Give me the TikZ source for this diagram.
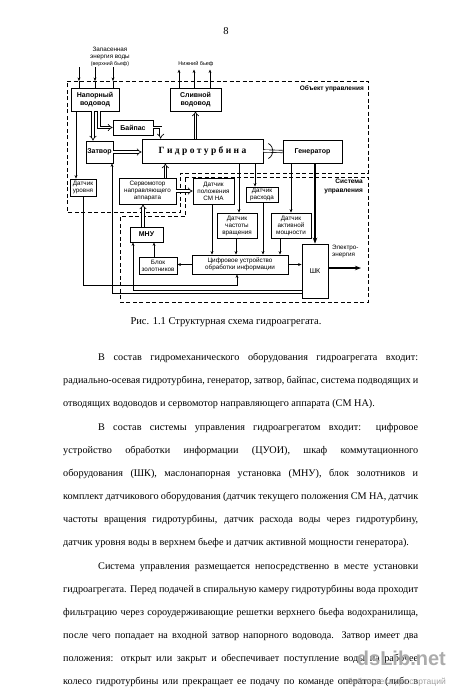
\documentclass[tikz,border=0pt]{standalone}
\usepackage{fontspec}
\setmainfont{Liberation Serif}
\setsansfont{Liberation Sans}
\usetikzlibrary{arrows.meta,calc}
\begin{document}
\begin{tikzpicture}[x=1pt,y=-1pt,
  box/.style={draw,line width=0.8pt,inner sep=0pt,align=center,font=\sffamily\bfseries\fontsize{7}{8}\selectfont},
  sbox/.style={box,font=\sffamily\fontsize{6.3}{7}\selectfont},
  bnd/.style={line width=0.9pt,dash pattern=on 4pt off 2.5pt},
  arr/.style={line width=0.55pt,-{Stealth[length=3.5pt,width=2.8pt]}},
  ln/.style={line width=0.55pt},
  dbl/.style={double,double distance=1.8pt,line width=0.65pt,-{Implies}},
  dbln/.style={double,double distance=1.8pt,line width=0.65pt},
  thk/.style={line width=1.6pt,-{Stealth[length=6pt,width=4.5pt]}},
  lbl/.style={inner sep=0pt,align=center,font=\sffamily\fontsize{6.3}{7.3}\selectfont},
  body/.style={inner sep=0pt,anchor=base west,font=\fontsize{10.2}{12}\selectfont},
]
\fill[white] (0,0) rectangle (450,694);
\path[use as bounding box] (0,0) rectangle (450,694);

% page number
\node[inner sep=0pt,anchor=base,font=\fontsize{10.5}{12}\selectfont] (pn) at (226,34) {8};

% boundaries
\draw[bnd] (67,81) -- (368,81) -- (368,173) -- (180,173) -- (180,212) -- (67,212) -- cycle;
\draw[bnd] (185,177) -- (368,177) -- (368,302) -- (120,302) -- (120,216.5) -- (185,216.5) -- cycle;

% boxes
\node[box,minimum width=48,minimum height=23] (napor) at (95,99.5) {Напорный\\водовод};
\node[box,minimum width=51,minimum height=23] (sliv) at (195.5,99.5) {Сливной\\водовод};
\node[box,minimum width=40,minimum height=15] (bypass) at (133,127.5) {Байпас};
\node[box,minimum width=27,minimum height=22] (zatvor) at (99.5,152) {Затвор};
\node[box,minimum width=121,minimum height=24,font=\bfseries\fontsize{9.5}{11}\selectfont] (turb) at (202.5,151) {Г и д р о т у р б и н а};
\node[box,minimum width=59,minimum height=23] (gen) at (312.5,151.5) {Генератор};
\node[sbox,minimum width=26,minimum height=17] (dur) at (83,187.5) {Датчик\\уровня};
\node[sbox,minimum width=57,minimum height=26] (servo) at (147.5,191) {Сервомотор\\направляющего\\аппарата};
\node[sbox,minimum width=41,minimum height=26] (dpos) at (213.5,191) {Датчик\\положения\\СМ НА};
\node[sbox,minimum width=32,minimum height=15] (drash) at (262,194.5) {Датчик\\расхода};
\node[sbox,minimum width=40,minimum height=25] (dchast) at (237,225.5) {Датчик\\частоты\\вращения};
\node[sbox,minimum width=40,minimum height=25] (dakt) at (291,225.5) {Датчик\\активной\\мощности};
\node[box,minimum width=33,minimum height=15] (mnu) at (146.5,234.5) {МНУ};
\node[sbox,minimum width=38,minimum height=17] (bz) at (158,265.5) {Блок\\золотников};
\node[sbox,minimum width=96,minimum height=19] (cuoi) at (240,264.5) {Цифровое устройство\\обработки информации};
\node[box,minimum width=26,minimum height=54,font=\sffamily\fontsize{7}{8}\selectfont] (shk) at (315,271) {ШК};

% labels
\node[lbl,anchor=south] (topin) at (110,67) {Запасенная\\энергия воды\\{\fontsize{5.3}{6}\selectfont(верхний бьеф)}};
\node[lbl,anchor=south,font=\sffamily\fontsize{5.5}{6.5}\selectfont] (nb) at (196,66.5) {Нижний бьеф};
\node[lbl,anchor=east,font=\sffamily\bfseries\fontsize{6.5}{7.5}\selectfont] (obj) at (364,88.5) {Объект управления};
\node[lbl,anchor=north east,align=right,font=\sffamily\bfseries\fontsize{6.5}{8.5}\selectfont] (sys) at (363,179) {Система\\управления};
\node[lbl,anchor=west,align=left] (elab) at (332,251.5) {Электро-\\энергия};

% helper coordinates
\coordinate (bt) at (0,81);
\coordinate (yo) at (0,69.5);
\coordinate (eout) at (361,268);
\coordinate (yl) at (0,285);
\coordinate (ym) at (0,290);
\coordinate (yz) at (0,293.5);

% inputs / outputs
\foreach \dx in {-16,0,18} {
  \draw[arr] ([xshift=\dx]napor.north |- topin.south) -- ([xshift=\dx]napor.north |- bt);
  \draw[ln] ([xshift=\dx]napor.north |- bt) -- ([xshift=\dx]napor.north);
}
\foreach \dx in {-16.5,-1.5,14.5}
  \draw[arr] ([xshift=\dx]sliv.north) -- ([xshift=\dx]sliv.north |- yo);

% water path
\draw[arr] ([xshift=-19]napor.south) -- ([xshift=-19]napor.south |- dur.north);
\draw[dbl] ([xshift=-2]napor.south) -- ([xshift=-2]napor.south |- zatvor.north);
\draw[dbl] ([xshift=4]napor.south) |- (bypass.west);
\draw[dbl] (bypass.east) -| ([xshift=19]turb.north west);
\draw[dbl] (zatvor.east) -- (zatvor.east -| turb.west);
\draw[dbl] (turb.north -| sliv.south) -- (sliv.south);
\draw[dbln] (turb.east) -- (gen.west);
\draw[line width=0.7pt] ($(turb.east)+(5,-7.5)$) .. controls ($(turb.east)+(11,-4)$) and ($(turb.east)+(11,4)$) .. ($(turb.east)+(5,7.5)$);
\draw[dbl] ([xshift=-11]servo.north east) -- ([xshift=-11]servo.north east |- turb.south);
\draw[dbl] ([xshift=-3.5]mnu.north) -- ([xshift=-3.5]mnu.north |- servo.south);
\draw[dbl] (servo.east) -- (dpos.west);

% sensors
\draw[arr] ([xshift=2]dchast.north |- turb.south) -- ([xshift=2]dchast.north);
\draw[arr] ([xshift=-7]drash.north |- turb.south) -- ([xshift=-7]drash.north);
\draw[arr] (dakt.north |- gen.south) -- (dakt.north);
\draw[thk] (shk.north |- gen.south) -- (shk.north);
\draw[thk] (shk.east |- eout) -- (eout);
\draw[arr] ([xshift=-1.5]dpos.south) -- ([xshift=-1.5]dpos.south |- cuoi.north);
\draw[arr] ([xshift=-1]dchast.south) -- ([xshift=-1]dchast.south |- cuoi.north);
\draw[arr] ([xshift=1]drash.south) -- ([xshift=1]drash.south |- cuoi.north);
\draw[arr] ([xshift=-11]dakt.south) -- ([xshift=-11]dakt.south |- cuoi.north);
\draw[arr] (cuoi.east) -- (cuoi.east -| shk.west);
\draw[arr] (cuoi.west) -- (cuoi.west -| bz.east);
\draw[arr] ([xshift=-4]bz.north) -- ([xshift=-4]bz.north |- mnu.south);
\draw[arr] (dur.south) |- ([xshift=-3]cuoi.south |- yl) -- ([xshift=-3]cuoi.south);
\draw[arr] (shk.west |- yz) -| ([xshift=12.5]zatvor.south);
\draw[arr] (shk.west |- ym) -| ([xshift=-13.5]mnu.south);

% caption
\node[inner sep=0pt,anchor=base,font=\fontsize{10.5}{12}\selectfont] (cap) at (226,324.5) {Рис. 1.1 Структурная схема гидроагрегата.};

% body text
\def\W{355pt}
\def\Wi{320pt}
\node[body] (t1) at (98,360.5) {\makebox[\Wi][s]{В состав гидромеханического оборудования гидроагрегата входит:}};
\node[body] (t2) at (63,383.6) {\makebox[\W][s]{радиально-осевая гидротурбина, генератор, затвор, байпас, система подводящих и}};
\node[body] (t3) at (63,406.7) {отводящих водоводов и сервомотор направляющего аппарата (СМ НА).};
\node[body] (t4) at (98,430) {\makebox[\Wi][s]{В состав системы управления гидроагрегатом входит: цифровое}};
\node[body] (t5) at (63,453.1) {\makebox[\W][s]{устройство обработки информации (ЦУОИ), шкаф коммутационного}};
\node[body] (t6) at (63,476.2) {\makebox[\W][s]{оборудования (ШК), маслонапорная установка (МНУ), блок золотников и}};
\node[body] (t7) at (63,499.3) {\makebox[\W][s]{комплект датчикового оборудования (датчик текущего положения СМ НА, датчик}};
\node[body] (t8) at (63,522.4) {\makebox[\W][s]{частоты вращения гидротурбины, датчик расхода воды через гидротурбину,}};
\node[body] (t9) at (63,545.5) {датчик уровня воды в верхнем бьефе и датчик активной мощности генератора).};
\node[body] (t10) at (98,569) {\makebox[\Wi][s]{Система управления размещается непосредственно в месте установки}};
\node[body] (t11) at (63,592.1) {\makebox[\W][s]{гидроагрегата. Перед подачей в спиральную камеру гидротурбины вода проходит}};
\node[body] (t12) at (63,615.2) {\makebox[\W][s]{фильтрацию через сороудерживающие решетки верхнего бьефа водохранилища,}};
\node[body] (t13) at (63,638.3) {\makebox[\W][s]{после чего попадает на входной затвор напорного водовода. Затвор имеет два}};
\node[body] (t14) at (63,661.4) {\makebox[\W][s]{положения: открыт или закрыт и обеспечивает поступление воды на рабочее}};
\node[body] (t15) at (63,684.5) {\makebox[\W][s]{колесо гидротурбины или прекращает ее подачу по команде оператора (либо в}};

% watermark
\node[inner sep=0pt,anchor=base east,font=\sffamily\bfseries\fontsize{20}{22}\selectfont,text=gray!65] (wm) at (446,665) {dsLib.net};
\node[inner sep=0pt,anchor=base east,font=\sffamily\fontsize{8.5}{9}\selectfont,text=gray!75] (wm2) at (446,684) {библиотека диссертаций};
\end{tikzpicture}
\end{document}
